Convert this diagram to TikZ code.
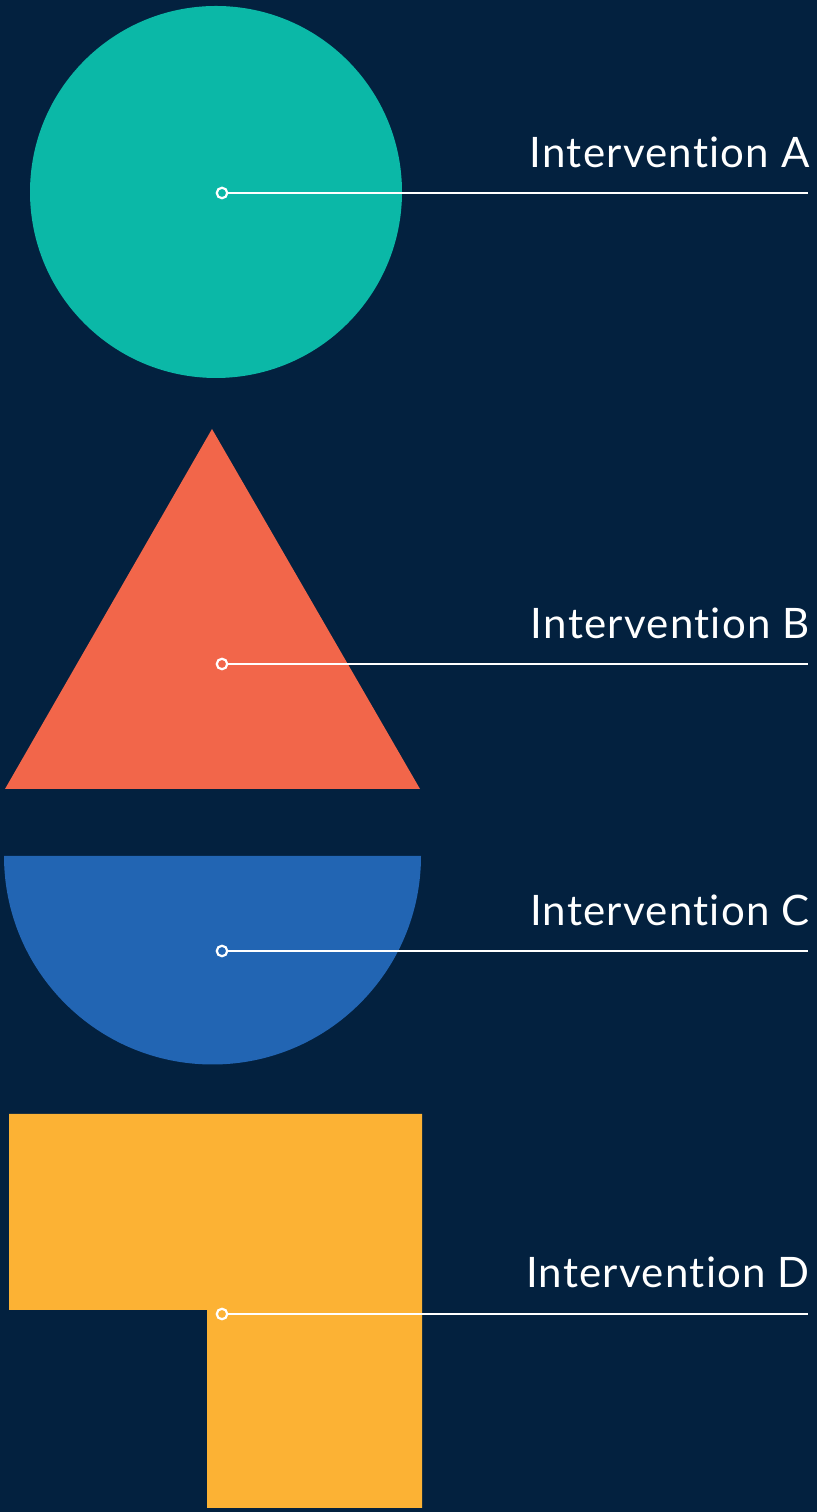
\documentclass[tikz,border=0pt]{standalone}
\usepackage{fontspec}
\setmainfont{Lato}[Ligatures={NoCommon},LetterSpace=3]
\definecolor{bgnavy}{HTML}{03213F}
\definecolor{cteal}{HTML}{0BB8A7}
\definecolor{cred}{HTML}{F2664A}
\definecolor{cblue}{HTML}{2265B3}
\definecolor{cyellow}{HTML}{FCB234}
\begin{document}
\begin{tikzpicture}[x=1pt,y=1pt,
  marker/.style={circle,draw=white,line width=2.2pt,inner sep=0pt,minimum size=10.5pt},
  leader/.style={draw=white,line width=2.2pt},
  label/.style={anchor=base east,inner sep=0pt,text=white,font=\fontsize{42}{48}\selectfont}]
\fill[bgnavy] (0,0) rectangle (817,1512);
\useasboundingbox (0,0) rectangle (817,1512);
% shapes
\fill[cteal] (216,1320) circle[radius=186];
\fill[cred] (212,1083) -- (420,723) -- (5,723) -- cycle;
\fill[cblue] (4,656) -- (421,656) arc[start angle=0,end angle=-180,radius=208.5] -- cycle;
\fill[cyellow] (9,398) -- (422,398) -- (422,4) -- (207,4) -- (207,202) -- (9,202) -- cycle;
% markers and leaders
\node[marker,fill=cteal] (mA) at (222,1319) {};
\node[marker,fill=cred] (mB) at (222,848) {};
\node[marker,fill=cblue] (mC) at (222,561) {};
\node[marker,fill=cyellow] (mD) at (222,198) {};
\coordinate (eA) at (808,1319);
\coordinate (eB) at (808,848);
\coordinate (eC) at (808,561);
\coordinate (eD) at (808,198);
\draw[leader] (mA.east) -- (eA);
\draw[leader] (mB.east) -- (eB);
\draw[leader] (mC.east) -- (eC);
\draw[leader] (mD.east) -- (eD);
% labels
\node[label] (tA) at (810,1344) {Intervention A};
\node[label] (tB) at (810,873) {Intervention B};
\node[label] (tC) at (810,586) {Intervention C};
\node[label] (tD) at (810,224) {Intervention D};
\end{tikzpicture}
\end{document}
